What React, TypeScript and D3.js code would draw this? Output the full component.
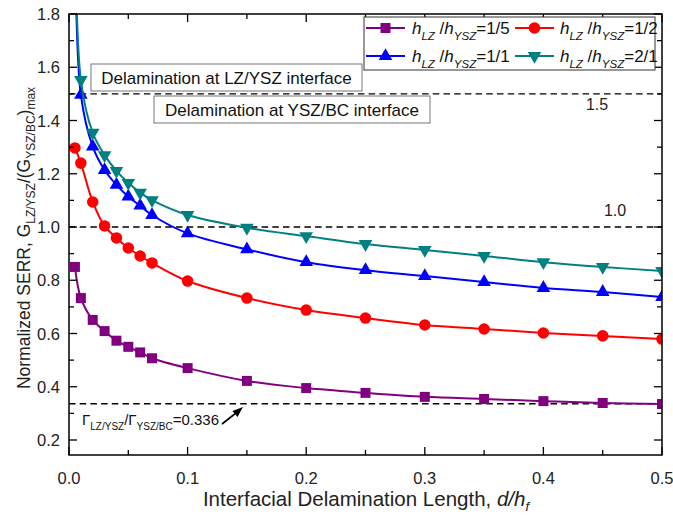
import React from 'react';
import * as d3 from 'd3';

// ---- data ----
const xValues = [0.005, 0.01, 0.02, 0.03, 0.04, 0.05, 0.06, 0.07, 0.1, 0.15, 0.2, 0.25, 0.3, 0.35, 0.4, 0.45, 0.5];
const ratio15 = [0.85, 0.733, 0.651, 0.609, 0.573, 0.55, 0.529, 0.507, 0.47, 0.422, 0.395, 0.377, 0.362, 0.354, 0.346, 0.339, 0.335];
const ratio12 = [1.297, 1.24, 1.094, 1.004, 0.959, 0.921, 0.891, 0.865, 0.797, 0.733, 0.688, 0.658, 0.632, 0.617, 0.602, 0.591, 0.579];
const ratio11 = [2.15, 1.496, 1.302, 1.214, 1.158, 1.114, 1.08, 1.045, 0.976, 0.916, 0.868, 0.838, 0.816, 0.793, 0.771, 0.756, 0.737];
const ratio21 = [2.25, 1.552, 1.354, 1.27, 1.211, 1.166, 1.129, 1.101, 1.045, 0.997, 0.966, 0.936, 0.914, 0.891, 0.868, 0.85, 0.835];
const seriesRatios = ['1/5', '1/2', '1/1', '2/1'];
const refLines = [1.5, 1.0, 0.336];
const yTickValues = [0.2, 0.4, 0.6, 0.8, 1.0, 1.2, 1.4, 1.6, 1.8];
const xTickValues = [0.0, 0.1, 0.2, 0.3, 0.4, 0.5];

const FONT = 'Arial, "Liberation Sans", sans-serif';

const L = 69, R = 662, T = 14, B = 455;

export default function App() {
  const x = d3.scaleLinear().domain([0, 0.5]).range([L, R]);
  const y = d3.scaleLinear().domain([0.2, 1.8]).range([440, T]);

  const series = [
    { vals: ratio15, color: '#800080', sym: d3.symbolSquare, size: 100, rot: 0 },
    { vals: ratio12, color: '#FF0000', sym: d3.symbolCircle, size: 105, rot: 0 },
    { vals: ratio11, color: '#0000FF', sym: d3.symbolTriangle, size: 80, rot: 0 },
    { vals: ratio21, color: '#008080', sym: d3.symbolTriangle, size: 80, rot: 180 },
  ];

  const line = d3.line<number>()
    .x((_, i) => x(xValues[i]))
    .y((d) => y(d))
    .curve(d3.curveCatmullRom.alpha(0.5));

  const minorY = d3.range(2, 19).map((v) => v / 10);
  const minorX = d3.range(0, 11).map((v) => v * 0.05);

  const sub = (t: string, italic = false, size = 10, d = 5) => (
    <tspan fontSize={size} dy={d} fontStyle={italic ? 'italic' : 'normal'}>{t}</tspan>
  );

  const legendItems = [
    { s: series[0], lx: 366, ly: 28, tx: 412 },
    { s: series[1], lx: 515, ly: 28, tx: 560 },
    { s: series[2], lx: 366, ly: 56, tx: 412 },
    { s: series[3], lx: 515, ly: 56, tx: 560 },
  ];

  return (
    <svg width={673} height={517} style={{ display: 'block', position: 'absolute', left: 0, top: 0 }} fontFamily={FONT}>
      <rect width={673} height={517} fill="#fff" />
      <defs>
        <clipPath id="plot">
          <rect x={L} y={T} width={R - L} height={B - T} />
        </clipPath>
      </defs>

      {/* reference dashed lines */}
      {refLines.map((v) => (
        <line key={v} x1={L} x2={R} y1={y(v)} y2={y(v)} stroke="#000" strokeWidth={1.4} strokeDasharray="6.5,4.2" />
      ))}

      {/* series */}
      <g clipPath="url(#plot)">
        {series.map((s, k) => (
          <g key={k}>
            <path d={line(s.vals) || ''} fill="none" stroke={s.color} strokeWidth={2} />
            {s.vals.map((v, i) => (
              <path key={i} d={d3.symbol().type(s.sym).size(s.size)() || ''}
                transform={`translate(${x(xValues[i])},${y(v)}) rotate(${s.rot})`} fill={s.color} />
            ))}
          </g>
        ))}
      </g>

      {/* frame */}
      <rect x={L} y={T} width={R - L} height={B - T} fill="none" stroke="#000" strokeWidth={1.5} />

      {/* y ticks */}
      {minorY.map((v) => {
        const major = Math.round(v * 10) % 2 === 0;
        const len = major ? 8 : 5;
        return (
          <g key={'y' + v}>
            <line x1={L} x2={L + len} y1={y(v)} y2={y(v)} stroke="#000" strokeWidth={1.3} />
            <line x1={R} x2={R - len} y1={y(v)} y2={y(v)} stroke="#000" strokeWidth={1.3} />
          </g>
        );
      })}
      {yTickValues.map((v) => (
        <text key={'yl' + v} x={60} y={y(v) + 6} textAnchor="end" fontSize={16.5} fill="#222">{v.toFixed(1)}</text>
      ))}

      {/* x ticks */}
      {minorX.map((v, i) => {
        const major = i % 2 === 0;
        const len = major ? 8 : 5;
        return (
          <g key={'x' + i}>
            <line x1={x(v)} x2={x(v)} y1={B} y2={B - len} stroke="#000" strokeWidth={1.3} />
            <line x1={x(v)} x2={x(v)} y1={T} y2={T + len} stroke="#000" strokeWidth={1.3} />
          </g>
        );
      })}
      {xTickValues.map((v) => (
        <text key={'xl' + v} x={x(v)} y={484} textAnchor="middle" fontSize={16.5} fill="#222">{v.toFixed(1)}</text>
      ))}

      {/* axis titles */}
      <text x={366} y={506} textAnchor="middle" fontSize={20.5} fill="#222">
        Interfacial Delamination Length, <tspan fontStyle="italic">d/h</tspan>
        <tspan fontStyle="italic" fontSize={13} dy={5}>f</tspan>
      </text>
      <text transform="translate(30,238) rotate(-90)" textAnchor="middle" fontSize={17.5} fill="#222">
        Normalized SERR, G{sub('LZ/YSZ', false, 12)}<tspan dy={-5}>/(G</tspan>{sub('YSZ/BC', false, 12)}<tspan dy={-5}>)</tspan>{sub('max', false, 12)}
      </text>

      {/* annotation boxes */}
      <rect x={91} y={64} width={271} height={27} fill="#fff" stroke="#777" strokeWidth={1} />
      <text x={226.5} y={83.5} textAnchor="middle" fontSize={17} fill="#111">Delamination at LZ/YSZ interface</text>
      <rect x={154} y={96} width={276} height={27} fill="#fff" stroke="#777" strokeWidth={1} />
      <text x={292} y={115.5} textAnchor="middle" fontSize={17} fill="#111">Delamination at YSZ/BC interface</text>

      <text x={597} y={110} textAnchor="middle" fontSize={16} fill="#222">1.5</text>
      <text x={615} y={216} textAnchor="middle" fontSize={16} fill="#222">1.0</text>

      {/* gamma annotation */}
      <text x={82} y={425} fontSize={15} fill="#111">
        Γ{sub('LZ/YSZ')}<tspan dy={-5}>/Γ</tspan>{sub('YSZ/BC')}<tspan dy={-5}>=0.336</tspan>
      </text>
      <line x1={222} y1={424} x2={236} y2={413} stroke="#000" strokeWidth={1.6} />
      <path d="M243,407 L232.5,411 L237.5,417 Z" fill="#000" />

      {/* legend */}
      <rect x={364} y={17} width={291} height={53} fill="#fff" stroke="#333" strokeWidth={1} />
      {legendItems.map((it, k) => (
        <g key={'lg' + k}>
          <line x1={it.lx} x2={it.lx + 39} y1={it.ly} y2={it.ly} stroke={it.s.color} strokeWidth={2} />
          <path d={d3.symbol().type(it.s.sym).size(it.s.size)() || ''}
            transform={`translate(${it.lx + 19.5},${it.ly}) rotate(${it.s.rot})`} fill={it.s.color} />
          <text x={it.tx} y={it.ly + 6} fontSize={17} fill="#111">
            <tspan fontStyle="italic">h</tspan>{sub('LZ', true, 11.5, 6)}<tspan dy={-6}> /</tspan>
            <tspan fontStyle="italic">h</tspan>{sub('YSZ', true, 11.5, 6)}<tspan dy={-6}>={seriesRatios[k]}</tspan>
          </text>
        </g>
      ))}
    </svg>
  );
}
